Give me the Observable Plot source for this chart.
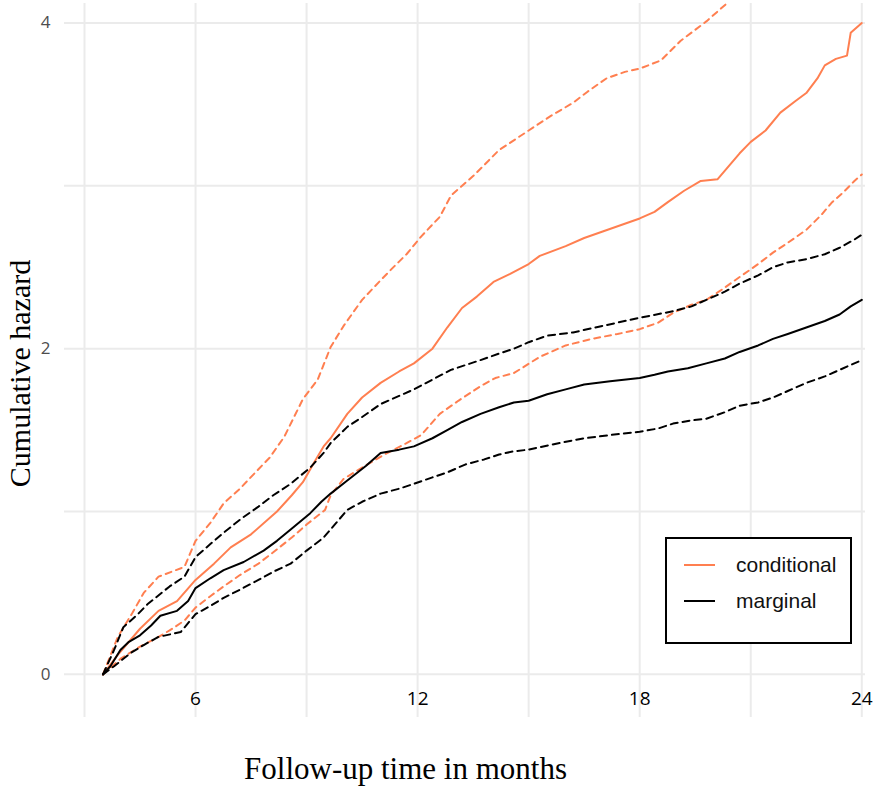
<!DOCTYPE html>
<html>
<head>
<meta charset="utf-8">
<script src="https://cdn.jsdelivr.net/npm/d3@7"></script>
<script src="https://cdn.jsdelivr.net/npm/@observablehq/plot@0.6"></script>
<style>
  html, body { margin: 0; padding: 0; background: #fff; }
  #wrap { position: relative; width: 893px; height: 804px; }
  #legend { position: absolute; left: 665px; top: 537px; width: 183px; height: 103px;
    border: 2px solid #000; background: #fff; font-family: "Liberation Sans", Arial, sans-serif; font-size: 21px; color: #111; }
  .item { position: absolute; left: 17px; display: flex; align-items: center; line-height: 1; }
  .item .sw { width: 31px; height: 2px; margin-right: 21px; }
</style>
</head>
<body>
<div id="wrap"></div>
<script>
// ---- data (months, cumulative hazard) ----
const condT  = [3.5,3.9,4.5,5.0,5.5,6.0,6.5,6.95,7.5,8.2,8.6,8.9,9.2,9.46,9.65,10.1,10.5,11.0,11.5,11.9,12.4,12.8,13.2,13.6,14.05,14.5,15.0,15.3,16.0,16.5,17.0,17.5,18.0,18.4,18.76,19.2,19.65,20.1,20.4,20.7,21.0,21.4,21.8,22.2,22.5,22.8,23.0,23.3,23.6,23.7,24.0];
const condH  = [0,0.12,0.28,0.39,0.45,0.58,0.68,0.78,0.86,1.0,1.1,1.18,1.3,1.40,1.45,1.6,1.7,1.79,1.86,1.91,2.0,2.13,2.25,2.32,2.41,2.46,2.52,2.57,2.63,2.68,2.72,2.76,2.80,2.84,2.9,2.97,3.03,3.04,3.12,3.2,3.27,3.34,3.45,3.52,3.57,3.66,3.74,3.78,3.8,3.94,4.0];

const condUpT = [3.5,3.9,4.3,4.6,5.0,5.7,6.0,6.4,6.76,7.2,7.7,8.0,8.4,8.9,9.3,9.65,10.0,10.5,11.0,11.3,11.7,12.1,12.6,12.9,13.5,14.2,15.0,15.6,16.2,16.6,17.1,17.6,18.0,18.57,19.1,19.8,20.4,20.6];
const condUpH = [0,0.23,0.38,0.5,0.6,0.66,0.82,0.93,1.05,1.14,1.26,1.33,1.46,1.69,1.81,2.01,2.14,2.3,2.42,2.49,2.58,2.69,2.81,2.94,3.06,3.22,3.34,3.43,3.51,3.58,3.66,3.70,3.72,3.77,3.89,4.01,4.13,4.18];

const condLoT = [3.5,4.0,4.5,5.0,5.3,5.7,6.0,6.4,6.76,7.2,7.7,8.1,8.6,9.0,9.5,9.65,10.0,10.5,11.1,11.7,12.1,12.6,13.1,13.7,14.1,14.6,15.3,16.0,16.7,17.4,18.0,18.5,18.9,19.4,19.8,20.2,20.7,21.2,21.6,22.0,22.5,22.9,23.2,23.5,23.8,24.0];
const condLoH = [0,0.1,0.17,0.23,0.27,0.33,0.41,0.48,0.54,0.61,0.68,0.75,0.84,0.92,1.01,1.1,1.2,1.27,1.35,1.42,1.47,1.6,1.68,1.77,1.82,1.85,1.95,2.02,2.06,2.09,2.12,2.16,2.22,2.27,2.3,2.36,2.44,2.52,2.59,2.65,2.73,2.82,2.9,2.96,3.03,3.07];

const margT = [3.5,3.7,3.97,4.2,4.5,4.8,5.05,5.5,5.8,6.0,6.4,6.76,7.3,7.84,8.2,8.57,9.1,9.4,9.65,10.1,10.6,11.0,11.5,11.9,12.4,12.8,13.2,13.7,14.2,14.6,15.0,15.5,16.0,16.5,17.2,18.0,18.4,18.76,19.3,19.8,20.3,20.7,21.2,21.6,22.0,22.5,23.0,23.4,23.7,24.0];
const margH = [0,0.05,0.15,0.2,0.24,0.3,0.36,0.39,0.45,0.53,0.59,0.64,0.69,0.76,0.82,0.89,0.99,1.06,1.11,1.19,1.28,1.36,1.38,1.40,1.45,1.5,1.55,1.6,1.64,1.67,1.68,1.72,1.75,1.78,1.8,1.82,1.84,1.86,1.88,1.91,1.94,1.98,2.02,2.06,2.09,2.13,2.17,2.21,2.26,2.3];

const margUpT = [3.5,3.8,4.05,4.4,4.7,5.3,5.7,6.0,6.4,6.76,7.2,7.7,8.1,8.57,9.1,9.46,9.65,10.1,10.5,11.0,11.5,11.9,12.4,12.9,13.3,13.7,14.2,14.6,15.0,15.5,16.2,17.0,18.0,18.9,19.4,19.8,20.3,20.7,21.2,21.6,22.0,22.5,23.0,23.4,23.8,24.0];
const margUpH = [0,0.15,0.29,0.36,0.43,0.54,0.6,0.72,0.8,0.87,0.95,1.03,1.1,1.17,1.27,1.36,1.42,1.52,1.58,1.66,1.71,1.75,1.81,1.87,1.9,1.93,1.97,2.0,2.04,2.08,2.1,2.14,2.19,2.23,2.26,2.3,2.35,2.4,2.45,2.5,2.53,2.55,2.58,2.62,2.67,2.7];

const margLoT = [3.5,3.8,4.24,4.6,5.0,5.6,6.0,6.4,6.76,7.2,7.7,8.1,8.57,9.0,9.46,9.8,10.1,10.5,11.0,11.5,11.9,12.4,12.8,13.3,13.8,14.2,14.6,15.0,15.6,16.5,17.2,18.0,18.5,18.9,19.4,19.8,20.3,20.7,21.2,21.6,22.0,22.5,23.0,23.4,23.7,24.0];
const margLoH = [0,0.05,0.13,0.18,0.23,0.26,0.37,0.42,0.47,0.52,0.58,0.63,0.68,0.76,0.84,0.93,1.01,1.06,1.11,1.14,1.17,1.21,1.24,1.29,1.32,1.35,1.37,1.38,1.41,1.45,1.47,1.49,1.51,1.54,1.56,1.57,1.61,1.65,1.67,1.7,1.74,1.79,1.83,1.87,1.9,1.93];

const xTickLabels = [6, 12, 18, 24];
const xGrid = [3, 6, 9, 12, 15, 18, 21, 24];
const yTickLabels = [0, 2, 4];
const yGrid = [0, 1, 2, 3, 4];
const seriesNames = ["conditional", "marginal"];
const xTitle = "Follow-up time in months";
const yTitle = "Cumulative hazard";

const ORANGE = "#FF7F50";
const zip = (t, h) => t.map((x, i) => ({t: x, h: h[i]}));

const series = [
  {data: zip(condT, condH), color: ORANGE, dash: null},
  {data: zip(condUpT, condUpH), color: ORANGE, dash: "6,5"},
  {data: zip(condLoT, condLoH), color: ORANGE, dash: "6,5"},
  {data: zip(margT, margH), color: "#000", dash: null},
  {data: zip(margUpT, margUpH), color: "#000", dash: "7,5"},
  {data: zip(margLoT, margLoH), color: "#000", dash: "7,5"}
];

const SANS = "Open Sans, Liberation Sans, sans-serif";
const SERIF = "Liberation Serif, Times New Roman, serif";

const chart = Plot.plot({
  width: 893,
  height: 804,
  marginLeft: 64,
  marginRight: 28,
  marginTop: 3,
  marginBottom: 87,
  style: {background: "#fff", overflow: "visible"},
  x: {domain: [2.46, 24.1], axis: null},
  y: {domain: [-0.265, 4.12], axis: null},
  marks: [
    Plot.gridX(xGrid, {stroke: "#ebebeb", strokeOpacity: 1, strokeWidth: 2}),
    Plot.gridY(yGrid, {stroke: "#ebebeb", strokeOpacity: 1, strokeWidth: 2}),
    ...series.map(s => Plot.line(s.data, {
      x: "t", y: "h", curve: "linear", stroke: s.color, strokeWidth: 2,
      strokeDasharray: s.dash, clip: true
    })),
    // x tick labels (inside the panel, below zero line)
    Plot.text(xTickLabels, {x: d => d, frameAnchor: "bottom", dy: -13, text: d => String(d),
      fontSize: 19, fill: "#000", fontFamily: SANS}),
    // y tick labels
    Plot.text(yTickLabels, {y: d => d, frameAnchor: "left", dx: -19, text: d => String(d),
      fontSize: 17, fill: "#4d4d4d", fontFamily: SANS, textAnchor: "middle"}),
    Plot.text([xTitle], {frameAnchor: "bottom-left", dx: 341, dy: 61, text: d => d,
      fontSize: 31, fontFamily: SERIF, fill: "#000", textAnchor: "middle"}),
    Plot.text([yTitle], {frameAnchor: "left", dx: -44, dy: 13, rotate: -90, text: d => d,
      fontSize: 30, fontFamily: SERIF, fill: "#000", textAnchor: "middle"})
  ]
});

const wrap = document.getElementById("wrap");
wrap.appendChild(chart);

const legend = document.createElement("div");
legend.id = "legend";
[ORANGE, "#000"].forEach((c, i) => {
  const it = document.createElement("div");
  it.className = "item";
  it.style.top = (i === 0 ? 15 : 51) + "px";
  const sw = document.createElement("span");
  sw.className = "sw";
  sw.style.background = c;
  const lab = document.createElement("span");
  lab.textContent = seriesNames[i];
  it.appendChild(sw); it.appendChild(lab);
  legend.appendChild(it);
});
wrap.appendChild(legend);
</script>
</body>
</html>
